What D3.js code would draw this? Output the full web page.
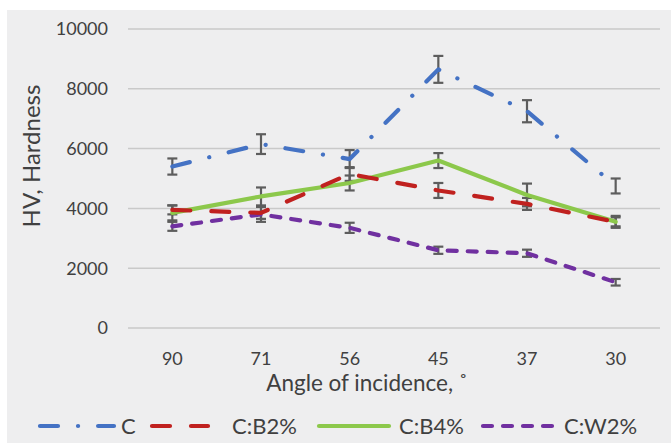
<!DOCTYPE html>
<html>
<head>
<meta charset="UTF-8">
<script src="https://d3js.org/d3.v7.min.js"></script>
<style>
  body { margin: 0; background: #fff; }
  text { font-family: Lato, "Open Sans", sans-serif; fill: #404040; }
</style>
</head>
<body>
<div id="chart"></div>
<script>
var angles = ["90", "71", "56", "45", "37", "30"];
var yTicks = [0, 2000, 4000, 6000, 8000, 10000];

var seriesNames = ["C", "C:B2%", "C:B4%", "C:W2%"];
var valC   = [5400, 6150, 5650, 8650, 7250, 4750];
var errC   = [270, 330, 300, 450, 370, 250];
var valB2  = [3950, 3850, 5150, 4600, 4150, 3550];
var errB2  = [150, 200, 230, 250, 200, 150];
var valB4  = [3850, 4400, 4850, 5600, 4450, 3550];
var errB4  = [250, 300, 250, 250, 380, 200];
var valW2  = [3400, 3800, 3350, 2600, 2500, 1530];
var errW2  = [150, 250, 170, 120, 120, 110];

var colors = ["#4472c4", "#c0211f", "#8cc84b", "#7030a0"];
var dashes = ["18,20,0.1,20", "18,21", null, "9,11"];

var series = [
  {name: seriesNames[0], values: valC,  errors: errC},
  {name: seriesNames[1], values: valB2, errors: errB2},
  {name: seriesNames[2], values: valB4, errors: errB4},
  {name: seriesNames[3], values: valW2, errors: errW2}
];

var width = 671, height = 445;
var margin = {top: 29, right: 11, bottom: 117, left: 128};

var svg = d3.select("#chart").append("svg")
    .attr("width", width)
    .attr("height", height);

svg.append("rect")
    .attr("x", 7).attr("y", 10)
    .attr("width", width - 7).attr("height", height - 12)
    .attr("fill", "#eeeeef");

var x = d3.scalePoint()
    .domain(angles)
    .range([margin.left, width - margin.right])
    .padding(0.5);

var y = d3.scaleLinear()
    .domain([0, 10000])
    .range([height - margin.bottom, margin.top]);

// grid
svg.append("g")
  .selectAll("line")
  .data(yTicks)
  .join("line")
    .attr("x1", margin.left)
    .attr("x2", width - margin.right)
    .attr("y1", function(d) { return y(d); })
    .attr("y2", function(d) { return y(d); })
    .attr("stroke", "#c9c9c9")
    .attr("stroke-width", 1.5);

// y tick labels
svg.append("g")
  .selectAll("text")
  .data(yTicks)
  .join("text")
    .attr("x", 108)
    .attr("y", function(d) { return y(d); })
    .attr("dy", "0.35em")
    .attr("text-anchor", "end")
    .style("font-size", "18px")
    .text(function(d) { return d; });

// x tick labels
svg.append("g")
  .selectAll("text")
  .data(angles)
  .join("text")
    .attr("x", function(d) { return x(d); })
    .attr("y", 365)
    .attr("text-anchor", "middle")
    .style("font-size", "18px")
    .text(function(d) { return d; });

svg.append("text")
    .attr("x", 367)
    .attr("y", 391)
    .attr("text-anchor", "middle")
    .style("font-size", "22.5px")
    .text("Angle of incidence, \u02da");

svg.append("text")
    .attr("transform", "translate(32,156) rotate(-90)")
    .attr("dy", "0.35em")
    .attr("text-anchor", "middle")
    .style("font-size", "24px")
    .text("HV, Hardness");

var line = d3.line()
    .x(function(d, i) { return x(angles[i]); })
    .y(function(d) { return y(d); });

// error bars
var eb = svg.append("g");
series.forEach(function(s) {
  s.values.forEach(function(v, i) {
    var cx = x(angles[i]);
    var y0 = y(v - s.errors[i]), y1 = y(v + s.errors[i]);
    eb.append("line").attr("x1", cx).attr("x2", cx).attr("y1", y0).attr("y2", y1);
    eb.append("line").attr("x1", cx - 5).attr("x2", cx + 5).attr("y1", y0).attr("y2", y0);
    eb.append("line").attr("x1", cx - 5).attr("x2", cx + 5).attr("y1", y1).attr("y2", y1);
  });
});
eb.selectAll("line").attr("stroke", "#5d5d5d").attr("stroke-width", 2.2);

// lines, drawn bottom series first
svg.append("g")
  .selectAll("path")
  .data(series.slice().reverse())
  .join("path")
    .attr("d", function(s) { return line(s.values); })
    .attr("fill", "none")
    .attr("stroke", function(s) { return colors[seriesNames.indexOf(s.name)]; })
    .attr("stroke-width", 4.2)
    .attr("stroke-linecap", "round")
    .attr("stroke-linejoin", "round")
    .attr("stroke-dasharray", function(s) { return dashes[seriesNames.indexOf(s.name)]; });

// legend
var legendPos = [
  {x1: 40, x2: 114, tx: 121},
  {x1: 152, x2: 208, tx: 232},
  {x1: 319, x2: 389, tx: 399},
  {x1: 483, x2: 556, tx: 564}
];
var lg = svg.append("g");
seriesNames.forEach(function(n, i) {
  var p = legendPos[i];
  lg.append("line")
    .attr("x1", p.x1).attr("x2", p.x2)
    .attr("y1", 426).attr("y2", 426)
    .attr("stroke", colors[i])
    .attr("stroke-width", 4.2)
    .attr("stroke-linecap", "round")
    .attr("stroke-dasharray", dashes[i]);
  lg.append("text")
    .attr("x", p.tx).attr("y", 426)
    .attr("dy", "0.35em")
    .style("font-size", "22px")
    .text(n);
});
</script>
</body>
</html>
